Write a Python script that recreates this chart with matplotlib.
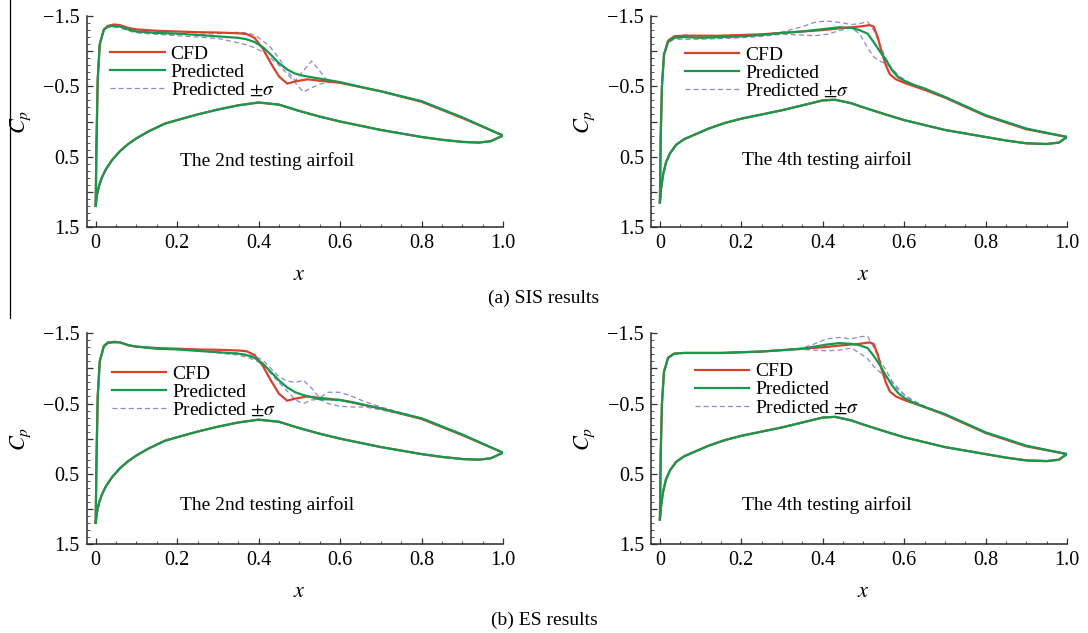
import matplotlib
matplotlib.use("Agg")
import matplotlib.pyplot as plt
from matplotlib.lines import Line2D
from matplotlib.ticker import FixedLocator, FixedFormatter, MultipleLocator

plt.rcParams['font.family'] = ['Liberation Serif', 'DejaVu Serif']
plt.rcParams['mathtext.fontset'] = 'stix'

# ---- airfoil 2 : CFD ----
x_cfd_up2 = [0, 0.002, 0.005, 0.01, 0.02, 0.03, 0.045, 0.06, 0.08, 0.1, 0.15, 0.2, 0.25, 0.3,
             0.35, 0.37, 0.39, 0.41, 0.43, 0.45, 0.47, 0.49, 0.52, 0.55, 0.6, 0.7, 0.8, 0.9, 1.0]
cp_cfd_up2 = [1.2, 0.3, -0.6, -1.1, -1.31, -1.36, -1.38, -1.37, -1.33, -1.31, -1.29, -1.28, -1.27, -1.265,
              -1.255, -1.245, -1.19, -1.04, -0.83, -0.64, -0.54, -0.57, -0.6, -0.58, -0.55, -0.43, -0.28, -0.05, 0.2]
x_lo2 = [0, 0.003, 0.008, 0.015, 0.025, 0.04, 0.06, 0.08, 0.1, 0.13, 0.17, 0.2, 0.25, 0.3, 0.35,
         0.4, 0.45, 0.5, 0.55, 0.6, 0.65, 0.7, 0.75, 0.8, 0.85, 0.9, 0.94, 0.97, 1.0]
cp_lo2 = [1.2, 1.05, 0.92, 0.8, 0.68, 0.55, 0.42, 0.32, 0.24, 0.14, 0.03, -0.02, -0.1, -0.17, -0.23,
          -0.27, -0.24, -0.15, -0.07, 0.0, 0.06, 0.12, 0.17, 0.22, 0.26, 0.29, 0.3, 0.28, 0.2]

# ---- airfoil 2 : predictions ----
x_pr2 = [0, 0.002, 0.005, 0.01, 0.02, 0.03, 0.045, 0.06, 0.08, 0.1, 0.15, 0.2, 0.25, 0.3, 0.35, 0.37, 0.39,
         0.41, 0.43, 0.45, 0.47, 0.49, 0.51, 0.53, 0.55, 0.57, 0.6, 0.63, 0.66, 0.7, 0.8, 0.9, 1.0]
sis_pred2 = [1.2, 0.3, -0.6, -1.1, -1.3, -1.35, -1.36, -1.35, -1.31, -1.28, -1.26, -1.25, -1.23, -1.21, -1.19, -1.17, -1.13,
             -1.06, -0.95, -0.83, -0.74, -0.68, -0.65, -0.63, -0.61, -0.59, -0.56, -0.52, -0.48, -0.43, -0.29, -0.06, 0.2]
sis_hi2 = [1.2, 0.3, -0.6, -1.1, -1.3, -1.36, -1.37, -1.35, -1.3, -1.27, -1.25, -1.24, -1.24, -1.25, -1.27, -1.26, -1.23,
           -1.15, -1.05, -0.9, -0.72, -0.58, -0.72, -0.86, -0.72, -0.57, -0.56, -0.52, -0.48, -0.43, -0.29, -0.06, 0.2]
sis_lo2 = [1.2, 0.3, -0.6, -1.1, -1.3, -1.34, -1.34, -1.33, -1.29, -1.26, -1.24, -1.22, -1.2, -1.18, -1.12, -1.09, -1.05,
           -0.99, -0.9, -0.8, -0.68, -0.55, -0.42, -0.48, -0.53, -0.56, -0.56, -0.52, -0.48, -0.43, -0.29, -0.06, 0.2]
es_pred2 = [1.2, 0.3, -0.6, -1.1, -1.32, -1.37, -1.37, -1.37, -1.33, -1.31, -1.28, -1.27, -1.25, -1.23, -1.21, -1.19, -1.15,
            -1.07, -0.95, -0.83, -0.73, -0.66, -0.62, -0.59, -0.56, -0.56, -0.55, -0.52, -0.48, -0.43, -0.29, -0.06, 0.2]
es_hi2 = [1.2, 0.3, -0.6, -1.1, -1.32, -1.37, -1.37, -1.37, -1.33, -1.31, -1.28, -1.27, -1.25, -1.23, -1.22, -1.2, -1.17,
          -1.12, -1.0, -0.88, -0.82, -0.8, -0.83, -0.72, -0.58, -0.66, -0.66, -0.6, -0.53, -0.45, -0.29, -0.06, 0.2]
es_lo2 = [1.2, 0.3, -0.6, -1.1, -1.32, -1.37, -1.37, -1.37, -1.33, -1.31, -1.28, -1.27, -1.25, -1.22, -1.19, -1.16, -1.12,
          -1.06, -0.93, -0.8, -0.68, -0.55, -0.5, -0.55, -0.56, -0.5, -0.46, -0.45, -0.45, -0.41, -0.29, -0.06, 0.2]

# ---- airfoil 4 : CFD ----
x_cfd_up4 = [0, 0.002, 0.005, 0.01, 0.02, 0.035, 0.06, 0.1, 0.15, 0.2, 0.25, 0.3, 0.35, 0.4, 0.45, 0.49,
             0.515, 0.525, 0.535, 0.545, 0.555, 0.565, 0.58, 0.6, 0.65, 0.7, 0.8, 0.9, 1.0]
cp_cfd_up4 = [1.15, 0.2, -0.5, -0.95, -1.15, -1.21, -1.22, -1.22, -1.22, -1.23, -1.24, -1.26, -1.28, -1.3, -1.33, -1.35,
              -1.37, -1.35, -1.2, -0.98, -0.8, -0.67, -0.6, -0.55, -0.45, -0.34, -0.08, 0.11, 0.22]
x_lo4 = [0, 0.003, 0.008, 0.015, 0.025, 0.04, 0.06, 0.08, 0.12, 0.16, 0.2, 0.25, 0.3, 0.35, 0.4, 0.43,
         0.47, 0.5, 0.56, 0.6, 0.65, 0.7, 0.75, 0.8, 0.85, 0.9, 0.95, 0.98, 1.0]
cp_lo4 = [1.15, 0.95, 0.75, 0.58, 0.45, 0.33, 0.25, 0.2, 0.1, 0.02, -0.04, -0.1, -0.16, -0.23, -0.3, -0.31,
          -0.26, -0.2, -0.09, -0.02, 0.05, 0.12, 0.17, 0.22, 0.27, 0.31, 0.32, 0.3, 0.22]

# ---- airfoil 4 : predictions ----
x_pr4 = [0, 0.002, 0.005, 0.01, 0.02, 0.035, 0.06, 0.1, 0.15, 0.2, 0.25, 0.3, 0.35, 0.38, 0.41, 0.44, 0.47, 0.49,
         0.51, 0.525, 0.54, 0.555, 0.57, 0.585, 0.6, 0.62, 0.65, 0.7, 0.8, 0.9, 1.0]
sis_pred4 = [1.15, 0.2, -0.5, -0.95, -1.13, -1.19, -1.2, -1.19, -1.2, -1.21, -1.23, -1.26, -1.28, -1.3, -1.32, -1.34, -1.33, -1.3,
             -1.25, -1.13, -1.0, -0.88, -0.73, -0.63, -0.58, -0.53, -0.47, -0.35, -0.09, 0.1, 0.22]
sis_hi4 = [1.15, 0.2, -0.5, -0.95, -1.15, -1.22, -1.23, -1.22, -1.22, -1.23, -1.24, -1.27, -1.35, -1.41, -1.43, -1.41, -1.38, -1.39,
           -1.42, -1.3, -1.1, -0.9, -0.75, -0.66, -0.6, -0.53, -0.46, -0.35, -0.09, 0.1, 0.22]
sis_lo4 = [1.15, 0.2, -0.5, -0.95, -1.12, -1.17, -1.17, -1.17, -1.18, -1.19, -1.21, -1.24, -1.23, -1.22, -1.24, -1.29, -1.33, -1.25,
           -1.05, -0.92, -0.86, -0.82, -0.76, -0.65, -0.57, -0.52, -0.46, -0.35, -0.09, 0.1, 0.22]
es_pred4 = [1.15, 0.2, -0.5, -0.95, -1.15, -1.21, -1.22, -1.22, -1.22, -1.23, -1.24, -1.26, -1.28, -1.31, -1.34, -1.36, -1.35, -1.33,
            -1.29, -1.18, -1.05, -0.9, -0.76, -0.65, -0.58, -0.52, -0.45, -0.35, -0.09, 0.1, 0.22]
es_hi4 = [1.15, 0.2, -0.5, -0.95, -1.15, -1.21, -1.22, -1.22, -1.22, -1.23, -1.24, -1.26, -1.29, -1.35, -1.42, -1.44, -1.42, -1.45,
          -1.46, -1.3, -1.12, -0.98, -0.82, -0.72, -0.63, -0.55, -0.46, -0.35, -0.09, 0.1, 0.22]
es_lo4 = [1.15, 0.2, -0.5, -0.95, -1.15, -1.21, -1.22, -1.22, -1.22, -1.23, -1.24, -1.26, -1.27, -1.26, -1.25, -1.26, -1.29, -1.22,
          -1.14, -1.03, -0.95, -0.87, -0.8, -0.7, -0.62, -0.54, -0.46, -0.35, -0.09, 0.1, 0.22]

# text
airfoil_names = ["The 2nd testing airfoil", "The 4th testing airfoil"]
row_titles = ["(a) SIS results", "(b) ES results"]
legend_labels = ["CFD", "Predicted", r"Predicted $\pm\sigma$"]
x_ticks = [0, 0.2, 0.4, 0.6, 0.8, 1.0]
x_ticklabels = ["0", "0.2", "0.4", "0.6", "0.8", "1.0"]
y_ticks = [-1.5, -1.0, -0.5, 0, 0.5, 1.0, 1.5]
y_ticklabels = ["\u22121.5", "", "\u22120.5", "", "0.5", "", "1.5"]

RED = "#d9412e"
GREEN = "#17994d"
DASH = "#8c89cc"

fig = plt.figure(figsize=(10.88, 6.33), dpi=100)

# axes rects [left, bottom, width, height] in figure fraction
rects = [[0.0797, 0.6414, 0.3826, 0.3333],
         [0.5983, 0.6414, 0.3824, 0.3333],
         [0.0797, 0.1406, 0.3826, 0.3329],
         [0.5983, 0.1406, 0.3824, 0.3329]]

panels = [
    (x_cfd_up2, cp_cfd_up2, x_lo2, cp_lo2, x_pr2, sis_pred2, sis_hi2, sis_lo2, 0),
    (x_cfd_up4, cp_cfd_up4, x_lo4, cp_lo4, x_pr4, sis_pred4, sis_hi4, sis_lo4, 1),
    (x_cfd_up2, cp_cfd_up2, x_lo2, cp_lo2, x_pr2, es_pred2, es_hi2, es_lo2, 0),
    (x_cfd_up4, cp_cfd_up4, x_lo4, cp_lo4, x_pr4, es_pred4, es_hi4, es_lo4, 1),
]
legend_pos = [(0.057, 0.860), (0.081, 0.858), (0.060, 0.848), (0.106, 0.860)]
text_pos = [(0.42, 0.56), (0.41, 0.55), (0.42, 0.95), (0.41, 0.95)]

for i, (xu, cu, xl, cl, xp, pr, hi, lo, k) in enumerate(panels):
    ax = fig.add_axes(rects[i])
    dash_kw = dict(color=DASH, lw=0.9, dashes=(4, 2.5))
    ax.plot(xp, hi, **dash_kw)
    ax.plot(xp, lo, **dash_kw)
    ax.plot(xl, cl, **dash_kw)
    ax.plot(xu, cu, color=RED, lw=1.6)
    ax.plot(xl, cl, color=RED, lw=1.6)
    ax.plot(xp, pr, color=GREEN, lw=1.6)
    ax.plot(xl, cl, color=GREEN, lw=1.6)

    ax.set_xlim(-0.022, 1.0)
    ax.set_ylim(1.5, -1.5)
    ax.spines['top'].set_visible(False)
    ax.spines['right'].set_visible(False)
    for s in ['left', 'bottom']:
        ax.spines[s].set_linewidth(1.1)
        ax.spines[s].set_color('#2a2a2a')
    ax.xaxis.set_major_locator(FixedLocator(x_ticks))
    ax.xaxis.set_major_formatter(FixedFormatter(x_ticklabels))
    ax.xaxis.set_minor_locator(MultipleLocator(0.05))
    ax.yaxis.set_major_locator(FixedLocator(y_ticks))
    ax.yaxis.set_major_formatter(FixedFormatter(y_ticklabels))
    ax.yaxis.set_minor_locator(MultipleLocator(0.1))
    ax.tick_params(which='major', direction='in', length=4, width=0.9, color='#333333',
                   labelsize=14.5, pad=5)
    ax.tick_params(which='minor', direction='in', length=2, width=0.7, color='#555555')

    ax.set_xlabel('$x$', fontsize=16)
    ax.xaxis.set_label_coords(0.511, -0.185)
    ax.set_ylabel('$C_p$', fontsize=16)
    ax.yaxis.set_label_coords(-0.13, 0.5)

    ax.text(text_pos[i][0], text_pos[i][1], airfoil_names[k], fontsize=14,
            ha='center', va='center')

    handles = [Line2D([], [], color=RED, lw=1.6),
               Line2D([], [], color=GREEN, lw=1.6),
               Line2D([], [], **dash_kw)]
    ax.legend(handles, legend_labels, loc='upper left', bbox_to_anchor=legend_pos[i],
              frameon=False, fontsize=14, handlelength=2.8, handletextpad=0.3,
              labelspacing=0.02, borderpad=0, borderaxespad=0)

fig.text(0.5, 1 - 298 / 633, row_titles[0], ha='center', va='center', fontsize=14)
fig.text(0.5, 1 - 620 / 633, row_titles[1], ha='center', va='center', fontsize=14)
fig.add_artist(Line2D([0.0092, 0.0092], [1 - 318 / 633, 1.0], color='black', lw=0.9))

fig.savefig("out.png", dpi=100)
